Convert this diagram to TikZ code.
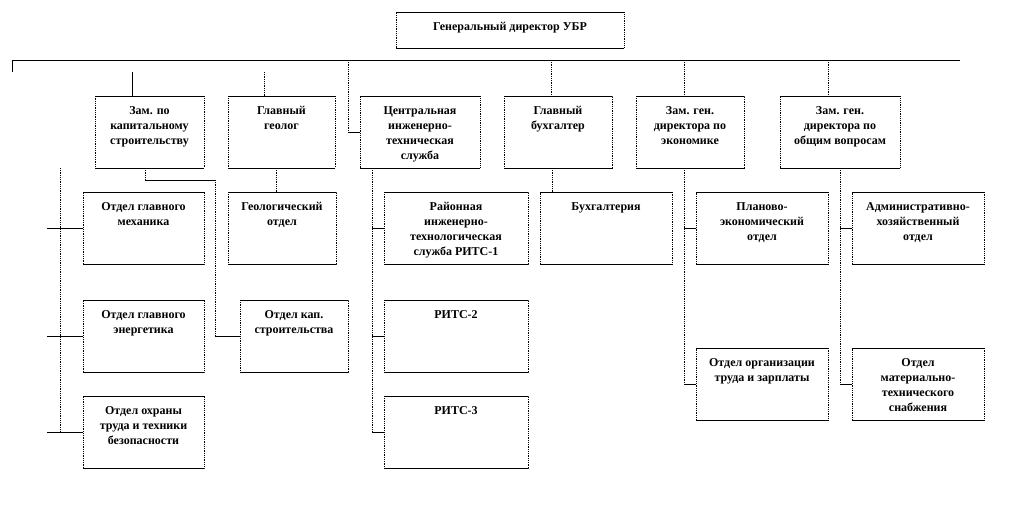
\documentclass[tikz,border=0pt]{standalone}
\usepackage{fontspec}
\setmainfont{Liberation Serif}
\tikzset{
  boxsh/.style={draw, densely dotted, line width=0.8pt, inner sep=0pt, outer sep=0pt},
  solidedge/.style={solid, line width=0.9pt},
  lbl/.style={font=\fontsize{12}{15}\selectfont\bfseries, align=center, inner sep=0pt},
  dot/.style={densely dotted, line width=0.8pt},
  con/.style={solid, line width=0.8pt}
}
\newcommand\orgbox[6]{%
  \node[boxsh, minimum width={#4pt-#2pt}, minimum height={#5pt-#3pt}, anchor=north west] (#1) at (#2,#3) {};
  \draw[solidedge] (#1.north west) -- (#1.north east) (#1.south west) -- (#1.south east);
  \node[lbl, anchor=north] (#1-t) at ([yshift=-10pt]#1.north) {#6};
}
\begin{document}
\begin{tikzpicture}[x=1pt,y=-1pt]
\useasboundingbox (0,0) rectangle (1032,528);
\orgbox{gd}{396}{12}{624}{48}{Генеральный директор УБР}
\orgbox{z1}{95}{96}{204}{168}{Зам. по\\капитальному\\строительству}
\orgbox{gg}{228}{96}{335}{168}{Главный\\геолог}
\orgbox{cis}{360}{96}{480}{168}{Центральная\\инженерно-\\техническая\\служба}
\orgbox{gb}{504}{96}{612}{168}{Главный\\бухгалтер}
\orgbox{ze}{636}{96}{744}{168}{Зам. ген.\\директора по\\экономике}
\orgbox{zo}{780}{96}{900}{168}{Зам. ген.\\директора по\\общим вопросам}
\orgbox{mech}{83}{192}{204}{264}{Отдел главного\\механика}
\orgbox{geo}{228}{192}{336}{264}{Геологический\\отдел}
\orgbox{rits1}{384}{192}{528}{264}{Районная\\инженерно-\\технологическая\\служба РИТС-1}
\orgbox{buh}{540}{192}{672}{264}{Бухгалтерия}
\orgbox{plan}{696}{192}{828}{264}{Планово-\\экономический\\отдел}
\orgbox{adm}{852}{192}{984}{264}{Административно-\\хозяйственный\\отдел}
\orgbox{energ}{83}{300}{204}{372}{Отдел главного\\энергетика}
\orgbox{kap}{240}{300}{348}{372}{Отдел кап.\\строительства}
\orgbox{rits2}{384}{300}{528}{372}{РИТС-2}
\orgbox{ot}{83}{396}{204}{468}{Отдел охраны\\труда и техники\\безопасности}
\orgbox{rits3}{384}{396}{528}{468}{РИТС-3}
\orgbox{otz}{696}{348}{828}{420}{Отдел организации\\труда и зарплаты}
\orgbox{mts}{852}{348}{984}{420}{Отдел\\материально-\\технического\\снабжения}
% bus
\coordinate (busLt) at (12,72);
\coordinate (busL) at (12,60);
\coordinate (busR) at (960,60);
\draw[con] (busLt) -- (busL) -- (busR);
% to level 1
\coordinate (c1) at (132,72);
\draw[con] (c1) -- (c1 |- z1.north);
\coordinate (c2) at (264,72);
\draw[dot] (c2) -- (c2 |- gg.north);
\coordinate (c3) at (348,60);
\draw[dot] (c3) -- (c3 |- cis.west);
\draw[con] (c3 |- cis.west) -- (cis.west);
\coordinate (c4) at (551,60);
\draw[dot] (c4) -- (c4 |- gb.north);
\coordinate (c5) at (684,60);
\draw[dot] (c5) -- (c5 |- ze.north);
\coordinate (c6) at (828,60);
\draw[dot] (c6) -- (c6 |- zo.north);
% z1 children
\coordinate (v1) at (60,168);
\draw[dot] (v1) -- (v1 |- ot.west);
\draw[con] (mech.west) -- ++(-36,0);
\draw[con] (energ.west) -- ++(-36,0);
\draw[con] (ot.west) -- ++(-36,0);
\coordinate (k1) at (145,168);
\coordinate (k2) at (145,180);
\coordinate (k3) at (215,180);
\draw[dot] (k1) -- (k2);
\draw[con] (k2) -- (k3);
\draw[dot] (k3) -- (k3 |- kap.west);
\draw[con] (k3 |- kap.west) -- (kap.west);
% gg child
\coordinate (g1) at (276,168);
\draw[dot] (g1) -- (g1 |- geo.north);
% cis children
\coordinate (v3) at (372,168);
\draw[dot] (v3) -- (v3 |- rits3.west);
\draw[con] (v3 |- rits1.west) -- (rits1.west);
\draw[con] (v3 |- rits2.west) -- (rits2.west);
\draw[con] (v3 |- rits3.west) -- (rits3.west);
% gb child
\coordinate (b1) at (552,168);
\draw[dot] (b1) -- (b1 |- buh.north);
% ze children
\coordinate (v5) at (684,168);
\draw[dot] (v5) -- (v5 |- otz.west);
\draw[con] (v5 |- plan.west) -- (plan.west);
\draw[con] (v5 |- otz.west) -- (otz.west);
% zo children
\coordinate (v6) at (840,168);
\draw[dot] (v6) -- (v6 |- mts.west);
\draw[con] (v6 |- adm.west) -- (adm.west);
\draw[con] (v6 |- mts.west) -- (mts.west);
\end{tikzpicture}
\end{document}
